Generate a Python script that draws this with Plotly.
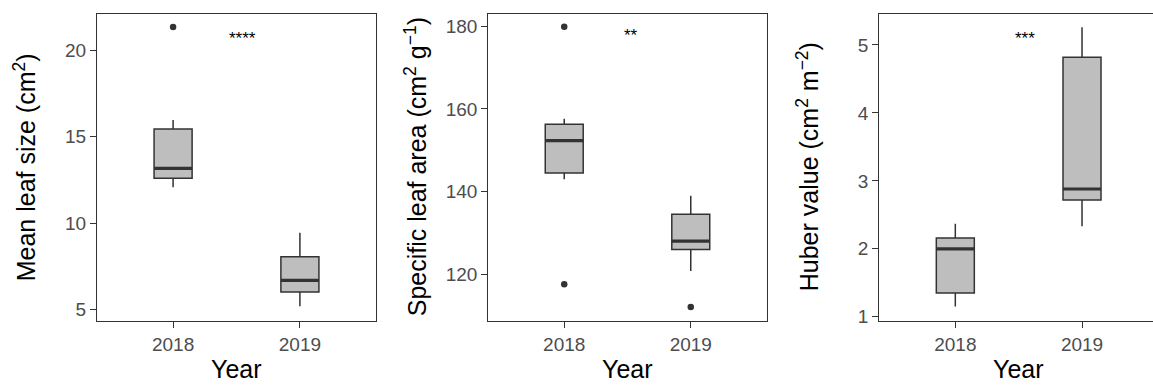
import plotly.graph_objects as go

# ---- data -------------------------------------------------------------
years = ["2018", "2019"]
year_pos = [1, 2]

# Mean leaf size (cm2)
leaf_q1 = [12.6, 6.0]
leaf_median = [13.17, 6.67]
leaf_q3 = [15.45, 8.04]
leaf_lower = [12.08, 5.17]
leaf_upper = [15.98, 9.44]
leaf_out_x = [1]
leaf_out_y = [21.37]

# Specific leaf area (cm2 g-1)
sla_q1 = [144.5, 126.0]
sla_median = [152.3, 128.0]
sla_q3 = [156.25, 134.5]
sla_lower = [143.0, 120.8]
sla_upper = [157.6, 139.0]
sla_out_x = [1, 1, 2]
sla_out_y = [179.85, 117.6, 112.1]

# Huber value (cm2 m-2)
hub_q1 = [1.35, 2.72]
hub_median = [2.0, 2.88]
hub_q3 = [2.16, 4.82]
hub_lower = [1.15, 2.33]
hub_upper = [2.37, 5.26]
hub_out_x = []
hub_out_y = []

# significance labels (x position, y position, text)
sig_x = [1.55, 1.53, 1.55]
sig_y = [20.7, 177.8, 5.09]
sig_text = ["****", "**", "***"]

y_titles = ["Mean leaf size (cm<sup>2</sup>)",
            "Specific leaf area (cm<sup>2</sup> g<sup>\u22121</sup>)",
            "Huber value (cm<sup>2</sup> m<sup>\u22122</sup>)"]

# ---- styling ------------------------------------------------------------
W, H = 1153, 387
FONT = "Liberation Sans, Arial, sans-serif"
DARK = "#333333"
FILL = "#bebebe"
TICKCOL = "#4d4d4d"
BOX_W = 0.3
PX_PER_UNIT = 126.7

panels = [
    dict(q1=leaf_q1, med=leaf_median, q3=leaf_q3, lo=leaf_lower, hi=leaf_upper,
         ox=leaf_out_x, oy=leaf_out_y, yr=[4.33, 22.14], dt=5,
         xd=[97 / W, 376 / W], xr=[0.4, 2.6]),
    dict(q1=sla_q1, med=sla_median, q3=sla_q3, lo=sla_lower, hi=sla_upper,
         ox=sla_out_x, oy=sla_out_y, yr=[108.74, 183.0], dt=20,
         xd=[488.3 / W, 766.7 / W], xr=[0.4, 2.6]),
    dict(q1=hub_q1, med=hub_median, q3=hub_q3, lo=hub_lower, hi=hub_upper,
         ox=hub_out_x, oy=hub_out_y, yr=[0.94, 5.46], dt=1,
         xd=[879.3 / W, 1.0], xr=[0.4, 0.4 + (W - 879.3) / PX_PER_UNIT]),
]
y_dom = [(H - 326.7) / H, (H - 14) / H]
title_x = [25, 416, 808]
year_x = [236.5, 627.5, 879.3 + 2.2 * PX_PER_UNIT / 2]

fig = go.Figure()
layout = dict(
    width=W, height=H, autosize=False,
    margin=dict(l=0, r=0, t=0, b=0),
    paper_bgcolor="white", plot_bgcolor="white",
    showlegend=False,
    font=dict(family=FONT, color="black"),
)
annotations = []

for i, p in enumerate(panels):
    n = "" if i == 0 else str(i + 1)
    xa, ya = "x" + n, "y" + n
    fig.add_trace(go.Box(
        x=year_pos, q1=p["q1"], median=p["med"], q3=p["q3"],
        lowerfence=p["lo"], upperfence=p["hi"],
        width=BOX_W, whiskerwidth=0, boxpoints=False,
        fillcolor=FILL, line=dict(color=DARK, width=1.5),
        xaxis=xa, yaxis=ya, hoverinfo="skip"))
    # thicker median bar
    mx, my = [], []
    for xp, m in zip(year_pos, p["med"]):
        mx += [xp - BOX_W / 2, xp + BOX_W / 2, None]
        my += [m, m, None]
    fig.add_trace(go.Scatter(x=mx, y=my, mode="lines",
                             line=dict(color=DARK, width=3.2),
                             xaxis=xa, yaxis=ya, hoverinfo="skip"))
    if p["ox"]:
        fig.add_trace(go.Scatter(x=p["ox"], y=p["oy"], mode="markers",
                                 marker=dict(color=DARK, size=6.5),
                                 xaxis=xa, yaxis=ya, hoverinfo="skip"))
    layout["xaxis" + n] = dict(
        domain=p["xd"], range=p["xr"], tickvals=year_pos, ticktext=years,
        anchor=ya, showgrid=False, zeroline=False,
        showline=True, linecolor=DARK, linewidth=1.3, mirror=True,
        ticks="outside", ticklen=6, tickcolor=DARK, tickwidth=1.3,
        tickfont=dict(size=19, color=TICKCOL, family=FONT))
    layout["yaxis" + n] = dict(
        domain=y_dom, range=p["yr"], dtick=p["dt"], tick0=0,
        anchor=xa, showgrid=False, zeroline=False,
        showline=True, linecolor=DARK, linewidth=1.3, mirror=(i < 2),
        ticks="outside", ticklen=6, tickcolor=DARK, tickwidth=1.3,
        tickfont=dict(size=19, color=TICKCOL, family=FONT))
    # significance stars
    annotations.append(dict(x=sig_x[i], y=sig_y[i], xref=xa, yref=ya,
                            text=sig_text[i], showarrow=False,
                            font=dict(size=17, color="black", family=FONT)))
    # axis titles
    annotations.append(dict(x=year_x[i] / W, y=(H - 376) / H,
                            xref="paper", yref="paper",
                            text="Year", showarrow=False,
                            xanchor="center", yanchor="middle",
                            font=dict(size=25, color="black", family=FONT)))
    annotations.append(dict(x=title_x[i] / W, y=(y_dom[0] + y_dom[1]) / 2,
                            xref="paper", yref="paper", text=y_titles[i],
                            textangle=-90, showarrow=False,
                            xanchor="center", yanchor="middle",
                            font=dict(size=25, color="black", family=FONT)))

layout["annotations"] = annotations
fig.update_layout(**layout)
fig.write_html("out.html")
